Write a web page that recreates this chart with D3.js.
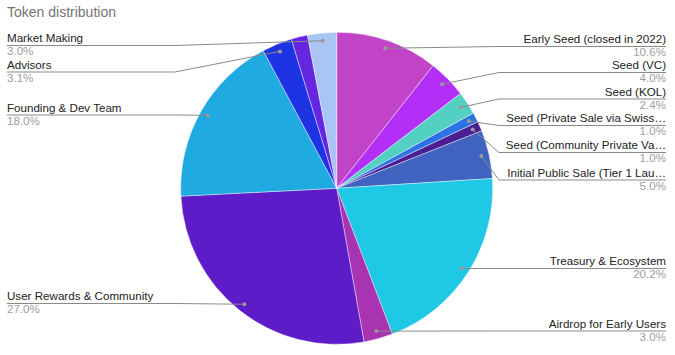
<!DOCTYPE html>
<html><head><meta charset="utf-8">
<script src="https://cdn.jsdelivr.net/npm/d3@7"></script>
<style>body{margin:0;background:#fff;}svg{display:block;font-family:"Liberation Sans",Arial,sans-serif;}</style>
</head><body>
<svg id="c" width="675" height="355"></svg>
<script>
// ---- data ----
const categories = [
  "Early Seed (closed in 2022)",
  "Seed (VC)",
  "Seed (KOL)",
  "Seed (Private Sale via Swiss…",
  "Seed (Community Private Va…",
  "Initial Public Sale (Tier 1 Lau…",
  "Treasury & Ecosystem",
  "Airdrop for Early Users",
  "User Rewards & Community",
  "Founding & Dev Team",
  "Advisors",
  "Other",
  "Market Making"
];
const values = [10.6, 4.0, 2.4, 1.0, 1.0, 5.0, 20.2, 3.0, 27.0, 18.0, 3.1, 1.7, 3.0];
const percentLabels = ["10.6%","4.0%","2.4%","1.0%","1.0%","5.0%","20.2%","3.0%","27.0%","18.0%","3.1%","","3.0%"];
const colors = ["#c144c8","#b32ef6","#52d1c3","#2b72e5","#4a1d93","#3f63bf","#1fc8e5","#a834b2","#5e1bc8","#1faae2","#1e33e4","#6426de","#a9c5f6"];
const showLabel = [true,true,true,true,true,true,true,true,true,true,true,false,true];
// label line heights (layout)
const labelLineY = [46.5, 72.5, 99, 125.5, 152.5, 180, 268.5, 331, 303.5, 115, 72, null, 45.5];

// ---- drawing ----
const svg = d3.select("#c");
const cx = 336.7, cy = 188.3, R = 156;

svg.append("text").attr("x", 7).attr("y", 17).attr("fill", "#757575")
  .attr("font-size", 14).text("Token distribution");

const pie = d3.pie().sort(null).value(d => d)(values);
const arc = d3.arc().innerRadius(0).outerRadius(R);
const g = svg.append("g").attr("transform", `translate(${cx},${cy})`);
g.selectAll("path").data(pie).join("path")
  .attr("d", arc).attr("fill", (d,i) => colors[i])
  .attr("stroke", "#fff").attr("stroke-width", 0.6).attr("stroke-opacity", 0.7);

const dotR = R * 0.95;
pie.forEach((d, i) => {
  if (!showLabel[i]) return;
  const a = (d.startAngle + d.endAngle) / 2;
  const px = cx + Math.sin(a) * dotR, py = cy - Math.cos(a) * dotR;
  const right = Math.sin(a) >= 0;
  const ly = labelLineY[i];
  const bendX = right ? 499 : 175;
  const edgeX = right ? 666 : 7;
  svg.append("polyline")
    .attr("points", `${edgeX},${ly} ${bendX},${ly} ${px},${py}`)
    .attr("fill", "none").attr("stroke", "#8a8a8a").attr("stroke-width", 1);
  svg.append("circle").attr("cx", px).attr("cy", py).attr("r", 2).attr("fill", "#9a9a9a");
  svg.append("text").attr("x", edgeX).attr("y", ly - 3.5)
    .attr("text-anchor", right ? "end" : "start")
    .attr("font-size", 11.6).attr("fill", "#222").text(categories[i]);
  svg.append("text").attr("x", edgeX).attr("y", ly + 9.5)
    .attr("text-anchor", right ? "end" : "start")
    .attr("font-size", 11.6).attr("fill", "#9e9e9e").text(percentLabels[i]);
});
</script>
</body></html>
